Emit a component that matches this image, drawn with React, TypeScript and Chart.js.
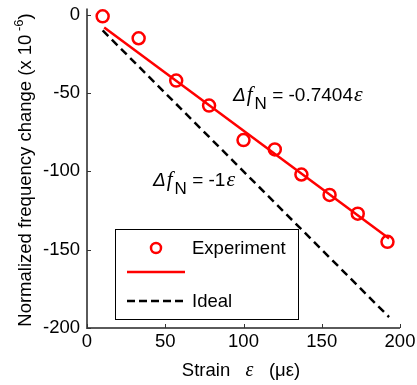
import React, { useEffect, useRef } from "react";
import { Chart, registerables } from "chart.js";

Chart.register(...registerables);

const strain = [10, 33, 57, 78, 100, 120, 137, 155, 173, 192];
const experiment = [-1, -15, -42, -58, -80, -86, -102, -115, -127, -145];
const fitStrain = [11, 193];
const fitSlope = -0.7404;
const idealStrain = [10, 193];
const idealSlope = -1;
const xTicks = [0, 50, 100, 150, 200];
const yTicks = [0, -50, -100, -150, -200];
const legendLabels = ["Experiment", "", "Ideal"];

const FONT = "Arial, 'Liberation Sans', sans-serif";
const SERIF = "'Liberation Serif', 'DejaVu Serif', serif";
const RED = "#ff0000";
const FS = 18.5;

export default function App() {
  const ref = useRef<HTMLCanvasElement | null>(null);
  useEffect(() => {
    const canvas = ref.current!;
    const expData = strain.map((x, i) => ({ x, y: experiment[i] }));
    const fitData = fitStrain.map((x) => ({ x, y: fitSlope * x }));
    const idealData = idealStrain.map((x) => ({ x, y: idealSlope * x }));

    const overlay = {
      id: "overlay",
      afterDraw(chart: any) {
        const ctx = chart.ctx as CanvasRenderingContext2D;
        const xs = chart.scales.x;
        const ys = chart.scales.y;
        const ca = chart.chartArea;
        ctx.save();
        // axes
        ctx.strokeStyle = "#5a5a5a";
        ctx.lineWidth = 2;
        ctx.beginPath();
        ctx.moveTo(ca.left, ca.top);
        ctx.lineTo(ca.left, ca.bottom);
        ctx.lineTo(ca.right, ca.bottom);
        ctx.stroke();
        // inward ticks
        ctx.lineWidth = 1;
        ctx.strokeStyle = "#333";
        ctx.beginPath();
        yTicks.forEach((v) => {
          const py = Math.round(ys.getPixelForValue(v)) + 0.5;
          ctx.moveTo(ca.left, py);
          ctx.lineTo(ca.left + 4, py);
        });
        xTicks.forEach((v) => {
          const px = Math.round(xs.getPixelForValue(v)) + 0.5;
          ctx.moveTo(px, ca.bottom);
          ctx.lineTo(px, ca.bottom - 4);
        });
        ctx.stroke();

        // y title
        ctx.fillStyle = "#000";
        ctx.save();
        ctx.translate(31, 170);
        ctx.rotate(-Math.PI / 2);
        const t1 = "Normalized frequency change (x 10";
        const sup = " -6";
        const t2 = ")";
        ctx.font = `${FS}px ${FONT}`;
        const w1 = ctx.measureText(t1).width;
        ctx.font = `13px ${FONT}`;
        const ws = ctx.measureText(sup).width;
        ctx.font = `${FS}px ${FONT}`;
        const w2 = ctx.measureText(t2).width;
        const tot = w1 + ws + w2;
        const x0 = -tot / 2;
        ctx.textBaseline = "alphabetic";
        ctx.textAlign = "left";
        ctx.fillText(t1, x0, 0);
        ctx.font = `13px ${FONT}`;
        ctx.fillText(sup, x0 + w1, -8);
        ctx.font = `${FS}px ${FONT}`;
        ctx.fillText(t2, x0 + w1 + ws, 0);
        ctx.restore();

        // x title
        ctx.textBaseline = "alphabetic";
        ctx.textAlign = "left";
        const parts: [string, string][] = [
          ["Strain   ", `${FS}px ${FONT}`],
          ["ε", `italic 20px ${SERIF}`],
          ["   (με)", `${FS}px ${FONT}`],
        ];
        let tw = 0;
        parts.forEach(([s, f]) => {
          ctx.font = f;
          tw += ctx.measureText(s).width;
        });
        let xx = 241 - tw / 2;
        parts.forEach(([s, f]) => {
          ctx.font = f;
          ctx.fillText(s, xx, 376);
          xx += ctx.measureText(s).width;
        });

        // annotations
        const drawEq = (x: number, y: number, coef: string) => {
          let cx = x;
          ctx.font = `italic 19px ${FONT}`;
          ctx.fillText("Δ", cx, y);
          cx += ctx.measureText("Δ").width + 1;
          ctx.font = `italic 21px ${SERIF}`;
          ctx.fillText("f", cx, y);
          cx += ctx.measureText("f").width + 2;
          ctx.font = `17px ${FONT}`;
          ctx.fillText("N", cx, y + 8);
          cx += ctx.measureText("N").width;
          ctx.font = `19px ${FONT}`;
          const s = " = " + coef;
          ctx.fillText(s, cx, y);
          cx += ctx.measureText(s).width + 1;
          ctx.font = `italic 22px ${SERIF}`;
          ctx.fillText("ε", cx, y);
        };
        drawEq(233, 101, "-0.7404");
        drawEq(153, 186, "-1");

        // legend
        const bx = 115, by = 229, bw = 183, bh = 90;
        ctx.fillStyle = "#fff";
        ctx.fillRect(bx, by, bw, bh);
        ctx.strokeStyle = "#000";
        ctx.lineWidth = 1;
        ctx.strokeRect(bx + 0.5, by + 0.5, bw, bh);
        ctx.strokeStyle = RED;
        ctx.lineWidth = 2.5;
        ctx.beginPath();
        ctx.arc(156, 248, 5, 0, Math.PI * 2);
        ctx.stroke();
        ctx.beginPath();
        ctx.moveTo(127, 272);
        ctx.lineTo(185, 272);
        ctx.stroke();
        ctx.strokeStyle = "#000";
        ctx.setLineDash([8, 4]);
        ctx.beginPath();
        ctx.moveTo(127, 301);
        ctx.lineTo(183, 301);
        ctx.stroke();
        ctx.setLineDash([]);
        ctx.fillStyle = "#000";
        ctx.font = `${FS}px ${FONT}`;
        ctx.textBaseline = "middle";
        ctx.fillText(legendLabels[0], 192, 249);
        ctx.fillText(legendLabels[1], 192, 273);
        ctx.fillText(legendLabels[2], 192, 302);
        ctx.restore();
      },
    };

    const chart = new Chart(canvas, {
      type: "scatter",
      data: {
        datasets: [
          {
            label: "Ideal",
            data: idealData,
            showLine: true,
            borderColor: "#000",
            borderWidth: 2.5,
            borderDash: [8, 5],
            pointRadius: 0,
            order: 3,
          },
          {
            label: "Fit",
            data: fitData,
            showLine: true,
            borderColor: RED,
            borderWidth: 2.5,
            pointRadius: 0,
            order: 2,
          },
          {
            label: "Experiment",
            data: expData,
            showLine: false,
            borderColor: RED,
            backgroundColor: "rgba(0,0,0,0)",
            borderWidth: 2.5,
            pointRadius: 6,
            order: 1,
          },
        ],
      },
      options: {
        animation: false,
        responsive: false,
        devicePixelRatio: 1,
        layout: { padding: { top: 6, right: 17, left: 0, bottom: 0 } },
        plugins: { legend: { display: false }, tooltip: { enabled: false } },
        scales: {
          x: {
            type: "linear",
            min: 0,
            max: 200,
            afterFit: (s: any) => {
              s.height = 57;
              s.paddingLeft = 0;
              s.paddingRight = 0;
            },
            afterBuildTicks: (s: any) => {
              s.ticks = xTicks.map((v) => ({ value: v }));
            },
            grid: { display: false, drawTicks: false },
            border: { display: false },
            ticks: {
              color: "#000",
              font: { family: FONT, size: FS },
              padding: 3,
              maxRotation: 0,
              autoSkip: false,
            },
          },
          y: {
            type: "linear",
            min: -200,
            max: 4,
            afterFit: (s: any) => {
              s.width = 87;
              s.paddingTop = 0;
              s.paddingBottom = 0;
            },
            afterBuildTicks: (s: any) => {
              s.ticks = yTicks.map((v) => ({ value: v }));
            },
            grid: { display: false, drawTicks: false },
            border: { display: false },
            ticks: {
              color: "#000",
              font: { family: FONT, size: FS },
              padding: 7,
              autoSkip: false,
            },
          },
        },
      },
      plugins: [overlay],
    });
    return () => chart.destroy();
  }, []);
  return (
    <div style={{ position: "fixed", left: 0, top: 0, width: 417, height: 385, background: "#fff" }}>
      <canvas ref={ref} width={417} height={385} style={{ display: "block" }} />
    </div>
  );
}
